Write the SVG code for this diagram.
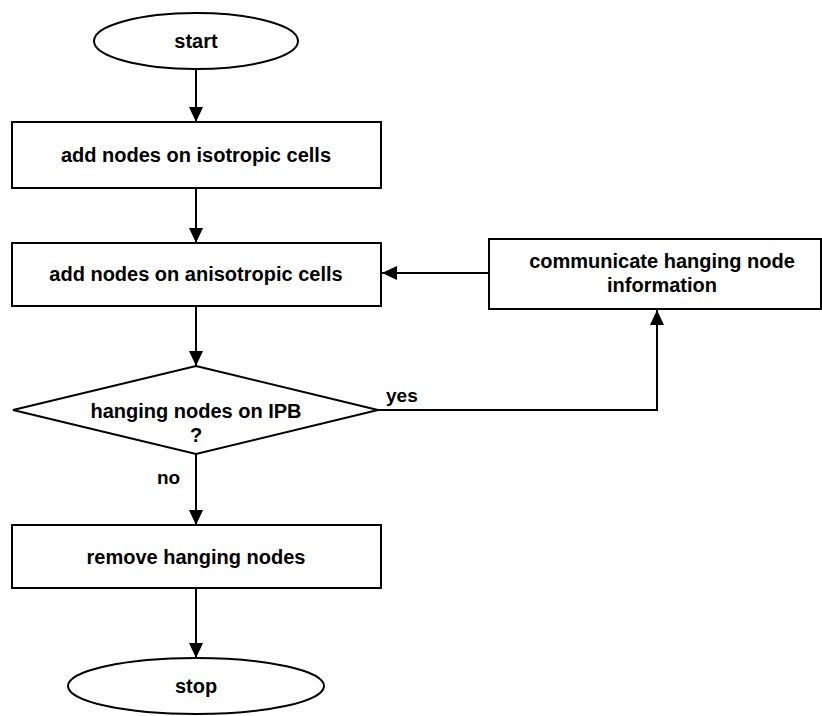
<svg xmlns="http://www.w3.org/2000/svg" width="822" height="716" viewBox="0 0 822 716">
  <defs>
    <marker id="arrow" viewBox="0 0 15 14" refX="15" refY="7" markerWidth="15" markerHeight="14" markerUnits="userSpaceOnUse" orient="auto">
      <path d="M0,0 L15,7 L0,14 Z" fill="#000"/>
    </marker>
    <style>
      .shape { fill: #fff; stroke: #000; stroke-width: 2; }
      .label { font-family: "Liberation Sans", Arial, sans-serif; font-weight: bold; font-size: 20px; fill: #000; text-anchor: middle; }
      .edge { fill: none; stroke: #000; stroke-width: 2; marker-end: url(#arrow); }
      .edge-label { font-family: "Liberation Sans", Arial, sans-serif; font-weight: bold; font-size: 19px; fill: #000; }
    </style>
  </defs>
  <rect width="822" height="716" fill="#fff"/>

  <g id="connectors">
    <line class="edge" x1="196" y1="69" x2="196" y2="122"/>
    <line class="edge" x1="196" y1="188" x2="196" y2="243"/>
    <line class="edge" x1="196" y1="306" x2="196" y2="366"/>
    <line class="edge" x1="196" y1="454" x2="196" y2="525"/>
    <line class="edge" x1="196" y1="588" x2="196" y2="658"/>
    <line class="edge" x1="489" y1="273" x2="382" y2="273"/>
    <polyline class="edge" points="378,410 657,410 657,310"/>
    <text class="edge-label" x="386" y="402">yes</text>
    <text class="edge-label" x="157" y="484">no</text>
  </g>

  <g id="start">
    <ellipse class="shape" cx="196" cy="41" rx="102" ry="28"/>
    <text class="label" x="196" y="48">start</text>
  </g>

  <g id="add-isotropic">
    <rect class="shape" x="12" y="122" width="369" height="66"/>
    <text class="label" x="196" y="162">add nodes on isotropic cells</text>
  </g>

  <g id="add-anisotropic">
    <rect class="shape" x="12" y="243" width="369" height="63"/>
    <text class="label" x="196" y="281">add nodes on anisotropic cells</text>
  </g>

  <g id="communicate">
    <rect class="shape" x="489" y="239" width="332" height="70"/>
    <text class="label" x="662" y="268">communicate hanging node</text>
    <text class="label" x="662" y="292">information</text>
  </g>

  <g id="decision">
    <polygon class="shape" points="196,366 378,410 196,454 13,410"/>
    <text class="label" x="196" y="418">hanging nodes on IPB</text>
    <text class="label" x="196" y="442">?</text>
  </g>

  <g id="remove">
    <rect class="shape" x="12" y="525" width="369" height="63"/>
    <text class="label" x="196" y="564">remove hanging nodes</text>
  </g>

  <g id="stop">
    <ellipse class="shape" cx="196" cy="686" rx="128" ry="28"/>
    <text class="label" x="196" y="693">stop</text>
  </g>
</svg>
